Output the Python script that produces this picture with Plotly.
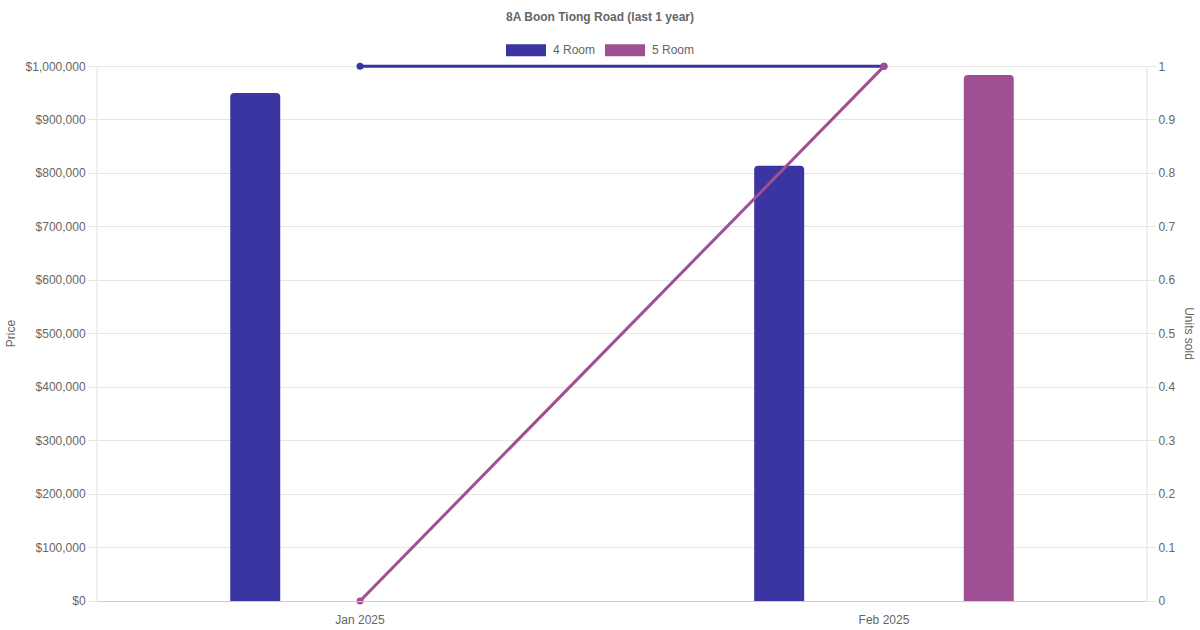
import plotly.graph_objects as go

# ---- data ----
months = ["Jan 2025", "Feb 2025"]
price_4room = [950000, 814000]
price_5room = [None, 984000]
units_4room = [1, 1]
units_5room = [0, 1]
series_names = ["4 Room", "5 Room"]
colors = ["#3a35a0", "#9f5093"]
title_text = "8A Boon Tiong Road (last 1 year)"
price_ticks = [i * 100000 for i in range(11)]
price_tick_labels = ["$" + format(v, ",") for v in price_ticks]
unit_ticks = [i / 10 for i in range(11)]
unit_tick_labels = ["0", "0.1", "0.2", "0.3", "0.4", "0.5", "0.6", "0.7", "0.8", "0.9", "1"]

# ---- layout geometry (pixels) ----
W, H = 1200, 630
EXT = 1.01  # small headroom so lines at the top are not clipped
L, R, B = 97, 53, 29
PW = W - L - R
PH = 535 * EXT
T = H - B - PH
FONT = "Liberation Sans, Arial, sans-serif"
GREY = "#666666"

def px_x(x):
    return (x - L) / PW

def px_y(y):
    return (H - B - y) / PH

bar_w = 50 / 524
bar_off = 0.2

fig = go.Figure()
fig.add_trace(go.Bar(x=months, y=price_4room, name=series_names[0],
                     marker=dict(color=colors[0], line=dict(width=0)),
                     width=bar_w, offset=-bar_off - bar_w / 2, showlegend=False))
fig.add_trace(go.Bar(x=months, y=price_5room, name=series_names[1],
                     marker=dict(color=colors[1], line=dict(width=0)),
                     width=bar_w, offset=bar_off - bar_w / 2, showlegend=False))
fig.add_trace(go.Scatter(x=months, y=units_4room, yaxis="y2", mode="lines+markers",
                         line=dict(color=colors[0], width=3), marker=dict(size=7, color=colors[0]),
                         showlegend=False, cliponaxis=False))
fig.add_trace(go.Scatter(x=months, y=units_5room, yaxis="y2", mode="lines+markers",
                         line=dict(color=colors[1], width=3), marker=dict(size=7, color=colors[1]),
                         showlegend=False, cliponaxis=False))

shapes = []
annotations = []
# axis lines limited to the tick range
shapes.append(dict(type="line", xref="paper", yref="y", x0=0, x1=0, y0=0, y1=1000000,
                   line=dict(color="#e0e0e0", width=1), layer="below"))
shapes.append(dict(type="line", xref="paper", yref="y", x0=1, x1=1, y0=0, y1=1000000,
                   line=dict(color="#e0e0e0", width=1), layer="below"))
# manual legend
legend_items = [(506, series_names[0], colors[0]), (605, series_names[1], colors[1])]
for x0, name, c in legend_items:
    shapes.append(dict(type="rect", xref="paper", yref="paper",
                       x0=px_x(x0), x1=px_x(x0 + 40), y0=px_y(56), y1=px_y(44),
                       fillcolor=c, line=dict(width=0)))
    annotations.append(dict(xref="paper", yref="paper", x=px_x(x0 + 45), y=px_y(50),
                            xanchor="left", yanchor="middle", text=name, showarrow=False,
                            font=dict(family=FONT, size=12, color=GREY)))
annotations.append(dict(xref="paper", yref="paper", x=px_x(600), y=px_y(17),
                        xanchor="center", yanchor="middle", text="<b>" + title_text + "</b>",
                        showarrow=False, font=dict(family=FONT, size=12, color=GREY)))
annotations.append(dict(xref="paper", yref="paper", x=px_x(11), y=px_y(333),
                        xanchor="center", yanchor="middle", text="Price", textangle=-90,
                        showarrow=False, font=dict(family=FONT, size=12, color=GREY)))
annotations.append(dict(xref="paper", yref="paper", x=px_x(1189), y=px_y(333),
                        xanchor="center", yanchor="middle", text="Units sold", textangle=90,
                        showarrow=False, font=dict(family=FONT, size=12, color=GREY)))

fig.update_layout(
    width=W, height=H,
    margin=dict(l=L, r=R, t=T, b=B, pad=0, autoexpand=False),
    paper_bgcolor="white", plot_bgcolor="white",
    barmode="overlay", barcornerradius=4,
    showlegend=False,
    font=dict(family=FONT, size=12, color=GREY),
    shapes=shapes, annotations=annotations,
    xaxis=dict(type="category", range=[-0.502, 1.502], showgrid=False, automargin=False,
               showline=True, linecolor="#cccccc", linewidth=1,
               ticks="outside", ticklen=8, tickcolor="rgba(0,0,0,0)",
               tickfont=dict(family=FONT, size=12, color=GREY),
               fixedrange=True),
    yaxis=dict(range=[0, 1000000 * EXT], tickvals=price_ticks, ticktext=price_tick_labels,
               showgrid=True, gridcolor="#e5e5e5", gridwidth=1, automargin=False,
               showline=False, zeroline=False,
               ticks="outside", ticklen=8, tickcolor="#e5e5e5",
               tickfont=dict(family=FONT, size=12, color=GREY)),
    yaxis2=dict(range=[0, EXT], tickvals=unit_ticks, ticktext=unit_tick_labels,
                overlaying="y", side="right", automargin=False,
                showgrid=False, showline=False, zeroline=False,
                ticks="outside", ticklen=8, tickcolor="#e5e5e5",
                tickfont=dict(family=FONT, size=12, color=GREY)),
)

fig.write_html("out.html", config={"displayModeBar": False},
               post_script="document.body.style.margin='0';document.body.style.padding='0';")
